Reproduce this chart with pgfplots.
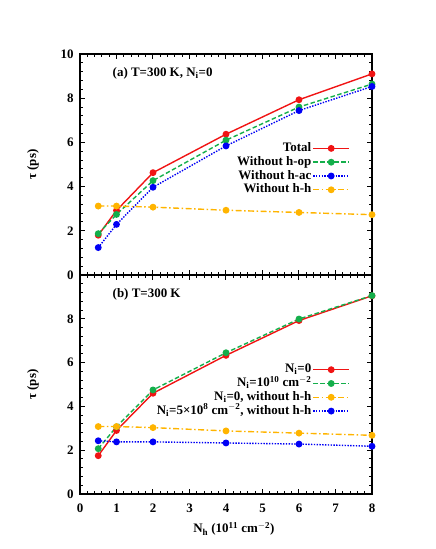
\documentclass[border=0pt]{standalone}
\usepackage{pgfplots}
\pgfplotsset{compat=1.18}
\usepackage{fontspec}
\setmainfont{Liberation Serif}
\definecolor{cred}{RGB}{240,20,20}
\definecolor{cgreen}{RGB}{20,175,75}
\definecolor{cblue}{RGB}{0,0,245}
\definecolor{corange}{RGB}{255,180,0}
\newcommand{\ff}{\bfseries\fontsize{13}{15}\selectfont}
\pgfplotsset{
  base/.style={
    scale only axis, width=292bp, height=221bp,
    xmin=0, xmax=8, ymin=0, ymax=10,
    xtick={0,1,...,8}, ytick={0,2,...,10},
    minor x tick num=4, minor y tick num=4,
    tick align=inside, tick pos=both,
    major tick length=5bp, minor tick length=3bp,
    axis line style={line width=1.6bp},
    every tick/.style={black, line width=1bp},
    /pgf/number format/assume math mode=true,
    tick label style={font=\ff},
    xticklabel style={yshift=-6bp},
    yticklabel style={xshift=-3bp},
    clip=false,
    legend cell align=right,
    legend plot pos=right,
    legend style={draw=none, fill=none, font=\ff, inner sep=0pt,
      anchor=north east, row sep=0pt,
      nodes={inner sep=1.2bp, text height=8.8bp, text depth=2.6bp}},
    legend image code/.code={\draw[mark repeat=2,mark phase=2] plot coordinates {(0bp,0bp)(18bp,0bp)(36bp,0bp)};},
    every axis plot/.append style={line width=1.4bp, mark=*, mark size=2.7bp, mark options={solid}},
  },
  sred/.style={color=cred, solid},
  sgreen/.style={color=cgreen, dash pattern=on 4.5bp off 2.5bp},
  sblue/.style={color=cblue, dash pattern=on 1.4bp off 1.4bp},
  sorange/.style={color=corange, dash pattern=on 6bp off 2.5bp on 1.5bp off 2.5bp},
}
\begin{document}
\begin{tikzpicture}
\useasboundingbox (0bp,0bp) rectangle (436bp,549bp);
% top panel
\begin{axis}[base, at={(80bp,274bp)}, anchor=origin,
  xticklabels={},
  ylabel={\ff τ (ps)},
  ylabel style={at={(axis description cs:-0.161,0.5)}, anchor=center},
  legend style={at={(axis description cs:0.925,0.605)}}]
\addplot[sred] coordinates {(0.5,1.80) (1,2.92) (2,4.63) (4,6.37) (6,7.93) (8,9.10)};
\addlegendentry{Total}
\addplot[sgreen] coordinates {(0.5,1.87) (1,2.74) (2,4.27) (4,6.10) (6,7.60) (8,8.64)};
\addlegendentry{Without h-op}
\addplot[sblue] coordinates {(0.5,1.24) (1,2.29) (2,3.97) (4,5.84) (6,7.44) (8,8.53)};
\addlegendentry{Without h-ac}
\addplot[sorange] coordinates {(0.5,3.12) (1,3.12) (2,3.07) (4,2.93) (6,2.83) (8,2.73)};
\addlegendentry{Without h-h}
\node[anchor=west, font=\ff] at (axis description cs:0.1,0.914) {(a) T=300 K, N$_\mathbf{i}$=0};
\end{axis}
% bottom panel
\begin{axis}[base, at={(80bp,55bp)}, anchor=origin, height=219bp,
  yticklabels={0,2,4,6,8,{}},
  ylabel={\ff τ (ps)},
  ylabel style={at={(axis description cs:-0.161,0.5)}, anchor=center},
  xlabel={\ff N$_\mathbf{h}$ (10$^{\mathbf{11}}$ cm$^{\mathbf{-2}}$)},
  xlabel style={at={(axis description cs:0.527,-0.16)}, anchor=center},
  legend style={at={(axis description cs:0.925,0.60)}}]
\addplot[sred] coordinates {(0.5,1.75) (1,2.90) (2,4.60) (4,6.33) (6,7.92) (8,9.05)};
\addlegendentry{N$_\mathbf{i}$=0}
\addplot[sgreen] coordinates {(0.5,2.07) (1,3.07) (2,4.75) (4,6.45) (6,7.99) (8,9.06)};
\addlegendentry{N$_\mathbf{i}$=10$^{\mathbf{10}}$ cm$^{\mathbf{-2}}$}
\addplot[sorange] coordinates {(0.5,3.08) (1,3.08) (2,3.03) (4,2.88) (6,2.78) (8,2.68)};
\addlegendentry{N$_\mathbf{i}$=0, without h-h}
\addplot[sblue] coordinates {(0.5,2.43) (1,2.38) (2,2.38) (4,2.33) (6,2.28) (8,2.18)};
\addlegendentry{N$_\mathbf{i}$=5×10$^{\mathbf{8}}$ cm$^{\mathbf{-2}}$, without h-h}
\node[anchor=west, font=\ff] at (axis description cs:0.1,0.913) {(b) T=300 K};
\end{axis}
\end{tikzpicture}
\end{document}
